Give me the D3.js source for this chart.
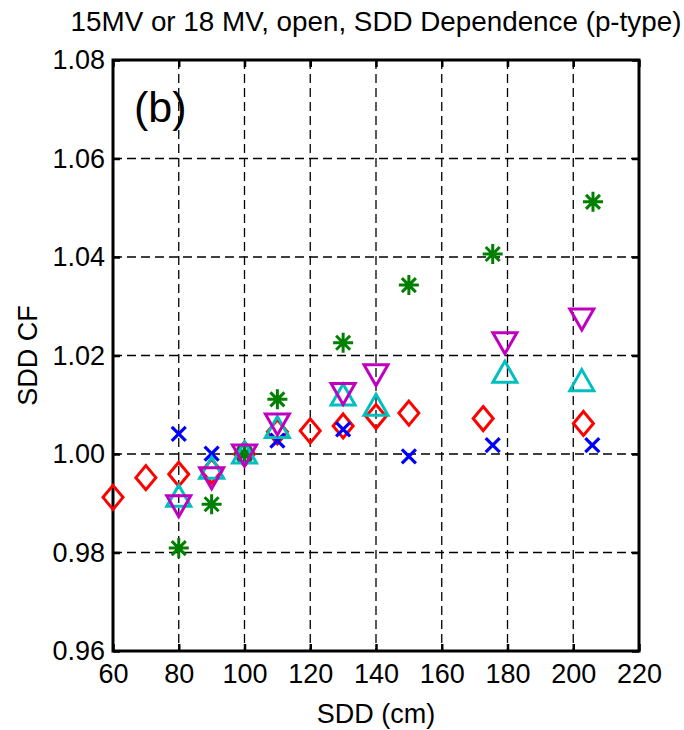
<!DOCTYPE html>
<html>
<head>
<meta charset="utf-8">
<script src="https://cdn.jsdelivr.net/npm/d3@7"></script>
<style>
  body { margin: 0; background: #fff; }
  text { font-family: "Liberation Sans", Arial, sans-serif; fill: #000; }
</style>
</head>
<body>
<div id="chart"></div>
<script>
// Data
const xTicks = [60, 80, 100, 120, 140, 160, 180, 200, 220];
const yTicks = [0.96, 0.98, 1.00, 1.02, 1.04, 1.06, 1.08];

const sddRed = [60, 70, 80, 90, 100, 110, 120, 130, 140, 150, 172.6, 203.1];
const cfRed = [0.9912, 0.9952, 0.9959, 0.9965, 1.000, 1.0045, 1.0047, 1.0057, 1.0076, 1.0083, 1.0072, 1.0062];

const sddBlue = [80, 90, 100, 110, 130, 150, 175.5, 205.8];
const cfBlue = [1.0041, 1.0001, 1.000, 1.0027, 1.0050, 0.9995, 1.0018, 1.0018];

const sddGreen = [80, 90, 100, 110, 130, 150, 175.5, 206];
const cfGreen = [0.9809, 0.9898, 1.000, 1.0111, 1.0226, 1.0343, 1.0406, 1.0512];

const sddCyan = [80, 90, 100, 110, 130, 140, 179.2, 202.6];
const cfCyan = [0.9915, 0.9972, 1.0003, 1.0055, 1.0121, 1.0100, 1.0167, 1.0150];

const sddMagenta = [80, 90, 100, 110, 130, 140, 179.2, 202.6];
const cfMagenta = [0.9894, 0.9951, 0.9997, 1.0060, 1.0122, 1.0160, 1.0225, 1.0273];

// Layout
const W = 684, H = 730;
const margin = {top: 60, right: 45, bottom: 79, left: 113};
const width = W - margin.left - margin.right;
const height = H - margin.top - margin.bottom;

const svg = d3.select("#chart").append("svg")
    .attr("width", W)
    .attr("height", H);

const g = svg.append("g")
    .attr("transform", "translate(" + margin.left + "," + margin.top + ")");

const x = d3.scaleLinear().domain([60, 220]).range([0, width]);
const y = d3.scaleLinear().domain([0.96, 1.08]).range([height, 0]);

// Grid (dashed)
g.append("g")
    .selectAll("line")
    .data(xTicks.slice(1, -1))
    .enter().append("line")
    .attr("x1", d => x(d)).attr("x2", d => x(d))
    .attr("y1", 0).attr("y2", height)
    .attr("stroke", "#000").attr("stroke-width", 1.3)
    .attr("stroke-dasharray", "9,5");

g.append("g")
    .selectAll("line")
    .data(yTicks.slice(1, -1))
    .enter().append("line")
    .attr("x1", 0).attr("x2", width)
    .attr("y1", d => y(d)).attr("y2", d => y(d))
    .attr("stroke", "#000").attr("stroke-width", 1.3)
    .attr("stroke-dasharray", "9,5");

// Axes with inward ticks
function styleAxis(sel) {
    sel.select(".domain").remove();
    sel.selectAll(".tick line").attr("stroke", "#000").attr("stroke-width", 2.5);
    sel.selectAll("text").style("font-size", "27px").style("font-family", "'Liberation Sans', Arial, sans-serif");
}

g.append("g")
    .attr("transform", "translate(0," + height + ")")
    .call(d3.axisBottom(x).tickValues(xTicks).tickSizeInner(-7).tickSizeOuter(0).tickPadding(13).tickFormat(d3.format("d")))
    .call(styleAxis);

g.append("g")
    .call(d3.axisLeft(y).tickValues(yTicks).tickSizeInner(-7).tickSizeOuter(0).tickPadding(8).tickFormat(d3.format(".2f")))
    .call(styleAxis);

g.append("g")
    .call(d3.axisTop(x).tickValues(xTicks).tickSizeInner(-7).tickSizeOuter(0).tickFormat(""))
    .call(styleAxis);

g.append("g")
    .attr("transform", "translate(" + width + ",0)")
    .call(d3.axisRight(y).tickValues(yTicks).tickSizeInner(-7).tickSizeOuter(0).tickFormat(""))
    .call(styleAxis);

// Frame
g.append("rect")
    .attr("x", 0).attr("y", 0)
    .attr("width", width).attr("height", height)
    .attr("fill", "none")
    .attr("stroke", "#000")
    .attr("stroke-width", 3);

// Marker shapes
const diamondPath = "M0,-12L10,0L0,12L-10,0Z";
const xPath = "M-7,-7L7,7M-7,7L7,-7";
const starPath = "M0,-10V10M-10,0H10M-7,-7L7,7M-7,7L7,-7";
const triUpPath = "M0,-10.5L12,10.5L-12,10.5Z";
const triDownPath = "M0,10.5L12,-10.5L-12,-10.5Z";

function drawSeries(xs, ys, path, color, sw) {
    g.append("g")
        .selectAll("path")
        .data(xs.map((d, i) => [d, ys[i]]))
        .enter().append("path")
        .attr("d", path)
        .attr("transform", d => "translate(" + x(d[0]) + "," + y(d[1]) + ")")
        .attr("fill", "none")
        .attr("stroke", color)
        .attr("stroke-width", sw)
        .attr("stroke-linejoin", "miter");
}

drawSeries(sddRed, cfRed, diamondPath, "#ff0000", 3);
drawSeries(sddBlue, cfBlue, xPath, "#0000ff", 3.2);
drawSeries(sddGreen, cfGreen, starPath, "#008000", 3);
drawSeries(sddCyan, cfCyan, triUpPath, "#00bfbf", 3);
drawSeries(sddMagenta, cfMagenta, triDownPath, "#bf00bf", 3);

// Labels
svg.append("text")
    .attr("x", margin.left + width / 2)
    .attr("y", 31)
    .attr("text-anchor", "middle")
    .style("font-size", "27.8px")
    .text("15MV or 18 MV, open, SDD Dependence (p-type)");

svg.append("text")
    .attr("x", margin.left + width / 2)
    .attr("y", 723)
    .attr("text-anchor", "middle")
    .style("font-size", "27px")
    .text("SDD (cm)");

svg.append("text")
    .attr("transform", "translate(37," + (margin.top + height / 2) + ") rotate(-90)")
    .attr("text-anchor", "middle")
    .style("font-size", "27px")
    .text("SDD CF");

svg.append("text")
    .attr("x", 134)
    .attr("y", 122)
    .style("font-size", "43px")
    .text("(b)");
</script>
</body>
</html>
